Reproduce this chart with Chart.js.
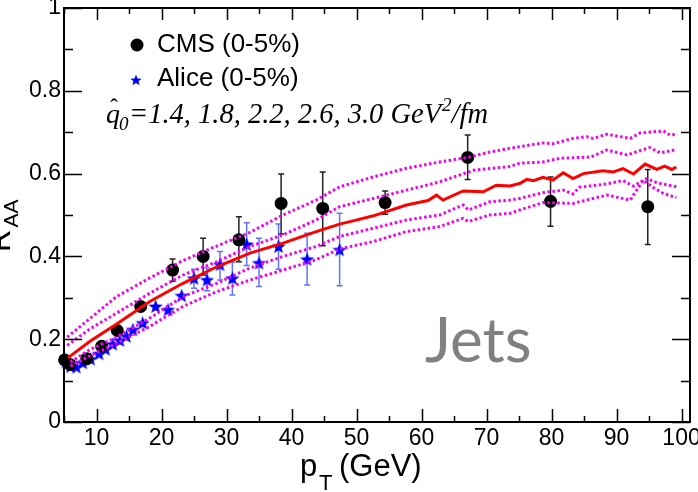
<!DOCTYPE html>
<html><head><meta charset="utf-8">
<script src="https://cdn.jsdelivr.net/npm/chart.js@4.4.0/dist/chart.umd.min.js"></script>
<style>html,body{margin:0;padding:0;background:#fff;overflow:hidden}</style>
</head><body>
<canvas id="c" width="698" height="492"></canvas>
<script>
// ---------- data ----------
const xTicks = [10, 20, 30, 40, 50, 60, 70, 80, 90, 100];
const yTicks = [0, 0.2, 0.4, 0.6, 0.8, 1];

const cmsPt  = [5.1, 5.9, 8.5, 10.8, 13.2, 16.8, 21.7, 26.4, 31.9, 38.4, 44.8, 54.4, 67.1, 79.85, 94.8];
const cmsRaa = [0.150, 0.139, 0.153, 0.183, 0.221, 0.279, 0.367, 0.400, 0.440, 0.528, 0.516, 0.530, 0.639, 0.533, 0.520];
const cmsErrUp = [0.004, 0.004, 0.004, 0.005, 0.005, 0.006, 0.027, 0.044, 0.056, 0.071, 0.088, 0.028, 0.054, 0.059, 0.090];
const cmsErrDn = [0.004, 0.004, 0.004, 0.005, 0.005, 0.006, 0.027, 0.045, 0.053, 0.074, 0.090, 0.028, 0.053, 0.060, 0.091];

const alicePt  = [5.3, 6.0, 6.9, 7.9, 9.1, 10.4, 11.4, 12.5, 13.6, 14.6, 15.6, 17.1, 19.1, 21.0, 23.1, 25.0, 27.0, 29.0, 30.9, 33.1, 35.0, 38.0, 42.4, 47.4];
const aliceRaa = [0.145, 0.134, 0.133, 0.143, 0.152, 0.165, 0.176, 0.188, 0.197, 0.207, 0.223, 0.239, 0.279, 0.271, 0.305, 0.347, 0.343, 0.380, 0.347, 0.429, 0.384, 0.424, 0.393, 0.416];
const aliceErrUp = [0.003, 0.003, 0.003, 0.003, 0.003, 0.003, 0.004, 0.004, 0.004, 0.005, 0.005, 0.006, 0.008, 0.012, 0.012, 0.022, 0.029, 0.032, 0.039, 0.052, 0.060, 0.054, 0.063, 0.088];
const aliceErrDn = [0.003, 0.003, 0.003, 0.003, 0.003, 0.003, 0.004, 0.004, 0.004, 0.005, 0.005, 0.006, 0.008, 0.012, 0.012, 0.024, 0.026, 0.037, 0.040, 0.051, 0.057, 0.055, 0.062, 0.087];

// theory, qhat0 = 2.2 (solid red)
const q22Pt  = [5.6, 9, 13.1, 18.2, 23.3, 28.5, 33.6, 38.7, 43.8, 47.4, 49, 52.6, 57.7, 61, 62.3, 63.3, 66.4, 69.5, 71.5, 73.6, 75.1, 76.2, 77.2, 78.7, 80.2, 81.8, 83.3, 84.9, 87.9, 89.5, 91, 92.6, 94.4, 96.2, 97.4, 98.5, 99.2];
const q22Raa = [0.155, 0.195, 0.237, 0.291, 0.335, 0.375, 0.408, 0.432, 0.460, 0.478, 0.484, 0.498, 0.524, 0.535, 0.548, 0.536, 0.558, 0.556, 0.572, 0.570, 0.576, 0.586, 0.583, 0.591, 0.584, 0.602, 0.588, 0.600, 0.607, 0.604, 0.612, 0.599, 0.623, 0.610, 0.618, 0.610, 0.616];
// qhat0 = 1.4
const q14Pt  = [5.5, 9, 13.1, 18.2, 23.3, 28.5, 33.6, 38.7, 43.8, 47.4, 52.6, 57.7, 62.8, 67.1, 70.5, 73.6, 75.1, 78.7, 80.2, 83.3, 85.4, 86.4, 88.5, 92.1, 93.6, 97.2, 98.2, 99.2];
const q14Raa = [0.205, 0.250, 0.303, 0.348, 0.390, 0.425, 0.458, 0.500, 0.536, 0.568, 0.592, 0.613, 0.628, 0.639, 0.652, 0.661, 0.665, 0.674, 0.672, 0.685, 0.689, 0.685, 0.695, 0.685, 0.698, 0.703, 0.693, 0.695];
// qhat0 = 1.8
const q18Pt  = [5.5, 9, 13.1, 18.2, 23.3, 28.5, 33.6, 38.7, 43.8, 47.4, 52.6, 57.7, 62.8, 68, 73.6, 75.1, 78.7, 81.3, 86, 88.5, 91.6, 95.1, 96.7, 99.2];
const q18Raa = [0.185, 0.225, 0.263, 0.311, 0.355, 0.387, 0.424, 0.452, 0.488, 0.520, 0.540, 0.560, 0.580, 0.608, 0.617, 0.625, 0.628, 0.637, 0.640, 0.657, 0.645, 0.663, 0.650, 0.658];
// qhat0 = 2.6
const q26Pt  = [6, 9, 13.1, 18.2, 23.3, 28.5, 33.6, 38.7, 43.8, 47.4, 52.6, 57.7, 62.8, 66.4, 67.2, 70.5, 73.6, 75.1, 78.7, 81.8, 83.3, 84.3, 88.5, 91, 92.6, 94.6, 96.2, 99.2];
const q26Raa = [0.145, 0.175, 0.205, 0.251, 0.303, 0.335, 0.372, 0.400, 0.424, 0.448, 0.468, 0.488, 0.500, 0.524, 0.512, 0.532, 0.536, 0.540, 0.554, 0.560, 0.551, 0.567, 0.575, 0.583, 0.570, 0.588, 0.578, 0.568];
// qhat0 = 3.0
const q30Pt  = [6, 9, 13.1, 18.2, 23.3, 28.5, 33.6, 38.7, 43.8, 47.4, 52.6, 57.7, 62.8, 66.4, 67.2, 70.5, 73.6, 75.1, 78.7, 83.3, 88.5, 92.1, 94.1, 95.6, 97.2, 99.2];
const q30Raa = [0.135, 0.160, 0.190, 0.231, 0.279, 0.315, 0.343, 0.367, 0.392, 0.418, 0.436, 0.460, 0.472, 0.492, 0.484, 0.500, 0.504, 0.512, 0.530, 0.528, 0.548, 0.536, 0.584, 0.567, 0.552, 0.542];

// ---------- helpers ----------
const pairs = (xs, ys) => xs.map((x, i) => ({x: x, y: ys[i]}));
function makeStar(R, r, fill) {
  const s = Math.ceil(2 * R + 2);
  const c = document.createElement('canvas'); c.width = s; c.height = s;
  const g = c.getContext('2d'); g.translate(s / 2, s / 2 + 0.5); g.beginPath();
  for (let i = 0; i < 10; i++) {
    const rad = (i % 2) ? r : R, a = -Math.PI / 2 + i * Math.PI / 5;
    g.lineTo(rad * Math.cos(a), rad * Math.sin(a));
  }
  g.closePath(); g.fillStyle = fill; g.fill(); return c;
}
const starImg = makeStar(7.5, 3.2, '#0000ff');
const MAG = 'rgb(245,0,245)';
const SANS = '"Liberation Sans", Arial, Helvetica, sans-serif';
const SERIF = '"Liberation Serif", "Times New Roman", serif';

function lineDS(label, xs, ys, color, dash, order) {
  return {label, data: pairs(xs, ys), showLine: true, borderColor: color, borderWidth: 3,
    borderDash: dash, pointRadius: 0, tension: 0, fill: false, order: order, clip: false};
}

// ---------- plugins ----------
const errorBars = {
  id: 'errorBars',
  beforeDatasetsDraw(chart) {
    const {ctx, scales: {x, y}} = chart;
    const draw = (xs, ys, up, dn, color, cap) => {
      ctx.save(); ctx.strokeStyle = color; ctx.lineWidth = 1.5;
      xs.forEach((v, i) => {
        const px = x.getPixelForValue(v);
        const yt = y.getPixelForValue(ys[i] + up[i]), yb = y.getPixelForValue(ys[i] - dn[i]);
        if (yb - yt < 12) return;
        ctx.beginPath();
        ctx.moveTo(px, yt); ctx.lineTo(px, yb);
        ctx.moveTo(px - cap, yt); ctx.lineTo(px + cap, yt);
        ctx.moveTo(px - cap, yb); ctx.lineTo(px + cap, yb);
        ctx.stroke();
      });
      ctx.restore();
    };
    draw(cmsPt, cmsRaa, cmsErrUp, cmsErrDn, '#222', 3);
    draw(alicePt, aliceRaa, aliceErrUp, aliceErrDn, 'rgba(40,70,255,0.75)', 3);
  }
};

const frameAndText = {
  id: 'frameAndText',
  afterDraw(chart) {
    const {ctx, chartArea: a, scales: {x, y}} = chart;
    ctx.save();
    ctx.strokeStyle = '#000'; ctx.lineWidth = 2;
    ctx.strokeRect(a.left, a.top, a.right - a.left, a.bottom - a.top);
    ctx.lineWidth = 1.5;
    ctx.beginPath();
    for (let v = 5; v <= 100.01; v += 5) {
      const px = Math.round(x.getPixelForValue(v)) + 0.5;
      const major = Math.abs(v % 10) < 1e-6;
      ctx.moveTo(px, a.bottom); ctx.lineTo(px, a.bottom - (major ? 13 : 6));
      ctx.moveTo(px, a.top); ctx.lineTo(px, a.top + (major ? 12 : 6));
    }
    for (let k = 0; k <= 10; k++) {
      const v = k / 10;
      const py = Math.round(y.getPixelForValue(v)) + 0.5;
      const major = k % 2 === 0;
      ctx.moveTo(a.left, py); ctx.lineTo(a.left + (major ? 18 : 9), py);
      ctx.moveTo(a.right, py); ctx.lineTo(a.right - (major ? 18 : 9), py);
    }
    ctx.stroke();

    // legend
    ctx.fillStyle = '#000';
    ctx.beginPath(); ctx.arc(137, 45, 6.5, 0, Math.PI * 2); ctx.fill();
    ctx.drawImage(makeStar(6, 2.6, '#0000ff'), 136 - 7, 80 - 7);
    ctx.font = '26px ' + SANS; ctx.textBaseline = 'alphabetic'; ctx.textAlign = 'left';
    ctx.fillText('CMS (0-5%)', 157, 52);
    ctx.fillText('Alice (0-5%)', 157, 86);

    // qhat annotation
    ctx.font = 'italic 28px ' + SERIF;
    let cx = 106;
    const base = 123;
    ctx.fillText('q', cx, base);
    const qw = ctx.measureText('q').width;
    ctx.font = '24px ' + SERIF; ctx.textAlign = 'center';
    ctx.fillText('\u02C6', cx + qw / 2 + 1, base - 8);
    ctx.textAlign = 'left';
    ctx.font = 'italic 19px ' + SERIF;
    ctx.fillText('0', cx + qw - 1, base + 7);
    cx += qw + 9;
    ctx.font = 'italic 28.5px ' + SERIF;
    const main = '=1.4, 1.8, 2.2, 2.6, 3.0 GeV';
    ctx.fillText(main, cx, base);
    cx += ctx.measureText(main).width;
    ctx.font = 'italic 19px ' + SERIF;
    ctx.fillText('2', cx + 1, base - 12);
    cx += ctx.measureText('2').width + 1;
    ctx.font = 'italic 28.5px ' + SERIF;
    ctx.fillText('/fm', cx, base);

    // Jets label
    ctx.fillStyle = '#808080';
    ctx.font = '62px Lato, "Open Sans", sans-serif';
    ctx.fillText('Jets', 425, 362);

    // x title
    ctx.fillStyle = '#000';
    ctx.font = '31px ' + SANS;
    ctx.fillText('p', 300, 476);
    ctx.font = '22px ' + SANS;
    ctx.fillText('T', 319, 490);
    ctx.font = '31px ' + SANS;
    ctx.fillText('(GeV)', 339, 476);

    // y title (rotated)
    ctx.translate(10, 252); ctx.rotate(-Math.PI / 2);
    ctx.font = '31px ' + SANS;
    ctx.fillText('R', 0, 0);
    const rw = ctx.measureText('R').width;
    ctx.font = '21px ' + SANS;
    ctx.fillText('AA', rw + 2, 8);
    ctx.restore();
  }
};

new Chart(document.getElementById('c'), {
  type: 'scatter',
  data: {
    datasets: [
      lineDS('qhat0=2.2', q22Pt, q22Raa, 'rgb(255,0,0)', [], 1),
      lineDS('qhat0=1.4', q14Pt, q14Raa, MAG, [2.5, 2.5], 2),
      lineDS('qhat0=1.8', q18Pt, q18Raa, MAG, [2.5, 2.5], 2),
      lineDS('qhat0=2.6', q26Pt, q26Raa, MAG, [2.5, 2.5], 2),
      lineDS('qhat0=3.0', q30Pt, q30Raa, MAG, [2.5, 2.5], 2),
      {label: 'CMS (0-5%)', data: pairs(cmsPt, cmsRaa), pointStyle: 'circle', pointRadius: 6.5,
        backgroundColor: '#000', borderColor: '#000', borderWidth: 0, showLine: false, order: 5, clip: false},
      {label: 'Alice (0-5%)', data: pairs(alicePt, aliceRaa), pointStyle: starImg, pointRadius: 7,
        showLine: false, order: 6, clip: false}
    ]
  },
  options: {
    responsive: false, animation: false, devicePixelRatio: 1,
    layout: {padding: {top: 8, right: 8, left: 0, bottom: 0}},
    plugins: {legend: {display: false}, tooltip: {enabled: false}},
    scales: {
      x: {
        type: 'linear', min: 5, max: 101.3,
        grid: {display: false, drawTicks: false}, border: {display: false},
        afterBuildTicks: s => { s.ticks = xTicks.map(v => ({value: v})); },
        ticks: {font: {family: SANS, size: 23}, color: '#000', padding: 3, maxRotation: 0, autoSkip: false},
        afterFit: s => { s.height = 70; s.paddingLeft = 0; s.paddingRight = 0; }
      },
      y: {
        type: 'linear', min: 0, max: 1,
        grid: {display: false, drawTicks: false}, border: {display: false},
        afterBuildTicks: s => { s.ticks = yTicks.map(v => ({value: v})); },
        ticks: {font: {family: SANS, size: 23}, color: '#000', padding: 3, autoSkip: false,
          callback: v => String(v)},
        afterFit: s => { s.width = 64; s.paddingTop = 0; s.paddingBottom = 0; }
      }
    }
  },
  plugins: [errorBars, frameAndText]
});
</script>
</body></html>
